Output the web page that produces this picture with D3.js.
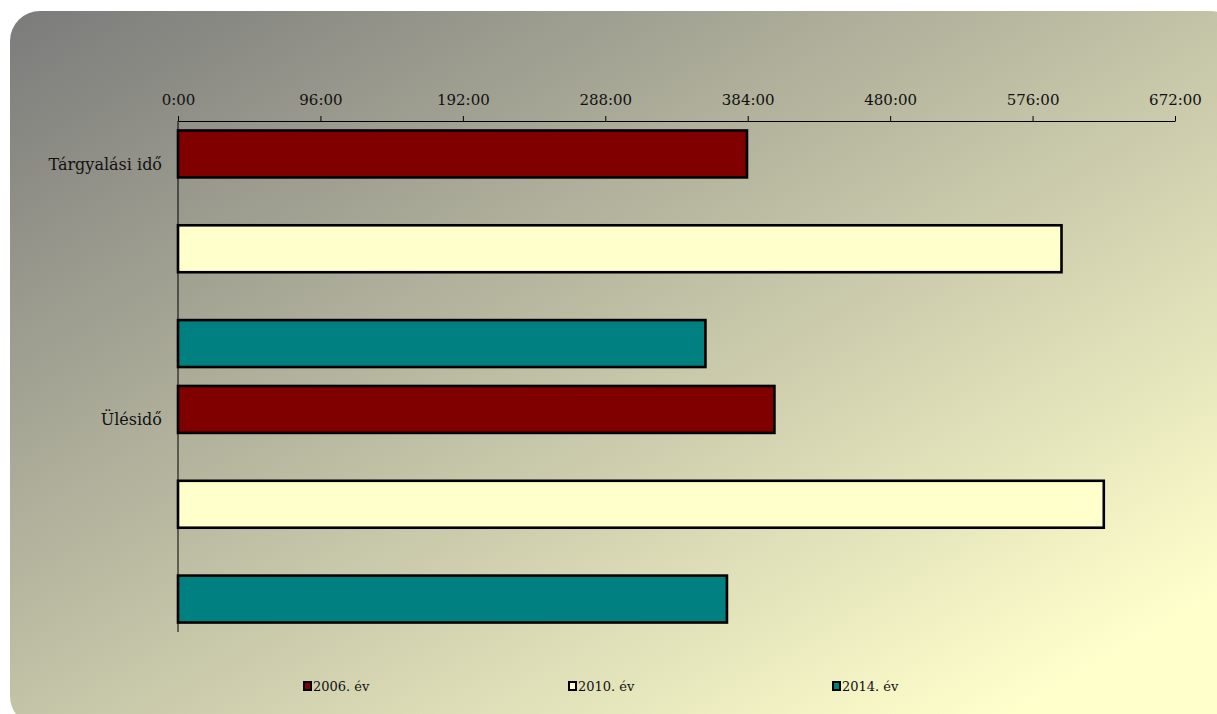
<!DOCTYPE html>
<html>
<head>
<meta charset="utf-8">
<script src="https://cdn.jsdelivr.net/npm/d3@7"></script>
<style>
  body { margin: 0; background: #fff; }
  svg text { font-family: "DejaVu Serif", Georgia, serif; fill: #111; }
</style>
</head>
<body>
<svg id="chart"></svg>
<script>
// categories and series (values in hours)
var categories = ["Tárgyalási idő", "Ülésidő"];
var seriesNames = ["2006. év", "2010. év", "2014. év"];
var seriesColors = ["#800000", "#FFFFCC", "#008080"];
var values2006 = [383.5, 402];
var values2010 = [595.5, 624];
var values2014 = [355.5, 370];
var tickHours = [0, 96, 192, 288, 384, 480, 576, 672];

var width = 1217, height = 714;
var svg = d3.select("#chart").attr("width", width).attr("height", height);

// background panel with diagonal gradient
var grad = svg.append("defs").append("linearGradient")
    .attr("id", "bg")
    .attr("x1", 0).attr("y1", 0).attr("x2", 0.9).attr("y2", 0.9);
grad.append("stop").attr("offset", 0).attr("stop-color", "#7b7b7b");
grad.append("stop").attr("offset", 1).attr("stop-color", "#FFFFCC");

svg.append("rect")
    .attr("x", 10).attr("y", 11)
    .attr("width", 1230).attr("height", 715)
    .attr("rx", 30)
    .attr("fill", "url(#bg)");

var x = d3.scaleLinear().domain([0, 672]).range([178, 1175]);
var y = d3.scaleBand().domain(categories).range([121, 632]);
var ySub = d3.scaleBand().domain(seriesNames)
    .range([0, y.bandwidth()])
    .paddingInner(0.505).paddingOuter(0.1);

// build rows for the bars
var seriesValues = [values2006, values2010, values2014];
var rows = [];
categories.forEach((c, i) => {
  seriesNames.forEach((s, j) => {
    rows.push({ cat: c, series: s, value: seriesValues[j][i], color: seriesColors[j] });
  });
});

svg.selectAll(".bar")
    .data(rows)
  .enter().append("rect")
    .classed("bar", true)
    .attr("x", x(0))
    .attr("y", d => y(d.cat) + ySub(d.series))
    .attr("width", d => x(d.value) - x(0))
    .attr("height", ySub.bandwidth())
    .attr("fill", d => d.color)
    .attr("stroke", "#000")
    .attr("stroke-width", 2.6);

// top time axis
var xAxis = d3.axisTop(x)
    .tickValues(tickHours)
    .tickFormat(h => h + ":00")
    .tickSizeInner(5)
    .tickSizeOuter(0);

var gx = svg.append("g")
    .attr("transform", "translate(0," + y.range()[0] + ")")
    .call(xAxis);
gx.select(".domain").attr("stroke", "#000");
gx.selectAll(".tick line").attr("stroke", "#000");
gx.selectAll(".tick text")
    .attr("y", -16)
    .style("font-size", "15px")
    .style("font-family", '"DejaVu Serif", serif')
    .attr("fill", "#111");

// left category axis (line only, labels placed near the first bar)
svg.append("line")
    .attr("x1", x(0)).attr("x2", x(0))
    .attr("y1", y.range()[0]).attr("y2", y.range()[1])
    .attr("stroke", "#000");

svg.selectAll(".cat-label")
    .data(categories)
  .enter().append("text")
    .classed("cat-label", true)
    .attr("x", x(0) - 16)
    .attr("y", d => y(d) + y.bandwidth() * 0.168)
    .attr("dy", "0.35em")
    .attr("text-anchor", "end")
    .style("font-size", "16px")
    .text(d => d);

// legend
var legendX = [304, 569, 833];
var legend = svg.selectAll(".legend")
    .data(seriesNames)
  .enter().append("g")
    .classed("legend", true)
    .attr("transform", (d, i) => "translate(" + legendX[i] + ",686)");

legend.append("rect")
    .attr("x", 0).attr("y", -4)
    .attr("width", 7).attr("height", 8)
    .attr("fill", (d, i) => seriesColors[i])
    .attr("stroke", "#000")
    .attr("stroke-width", 2);

legend.append("text")
    .attr("x", 9)
    .attr("dy", "0.35em")
    .style("font-size", "13px")
    .text(d => d);
</script>
</body>
</html>
